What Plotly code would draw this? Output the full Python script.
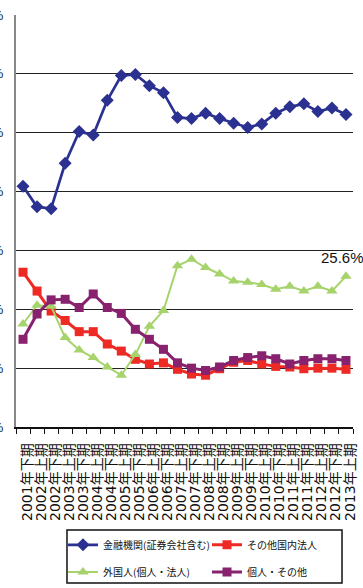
import plotly.graph_objects as go

categories = ["2001年下期", "2002年上期", "2002年下期", "2003年上期", "2003年下期", "2004年上期",
              "2004年下期", "2005年上期", "2005年下期", "2006年上期", "2006年下期", "2007年上期",
              "2007年下期", "2008年上期", "2008年下期", "2009年上期", "2009年下期", "2010年上期",
              "2010年下期", "2011年上期", "2011年下期", "2012年上期", "2012年下期", "2013年上期"]

financial = [40.9, 37.4, 37.1, 44.8, 50.2, 49.6, 55.5, 59.7, 59.9, 58.0, 56.8, 52.6,
             52.4, 53.3, 52.4, 51.6, 50.9, 51.5, 53.3, 54.4, 54.9, 53.6, 54.2, 53.1]
other_corp = [26.3, 23.1, 19.7, 18.1, 16.2, 16.2, 14.1, 12.9, 11.5, 10.7, 10.9, 9.8,
              9.0, 8.8, 9.9, 11.0, 11.3, 10.7, 10.3, 10.2, 9.9, 10.0, 10.0, 9.8]
foreign = [17.5, 20.7, 20.5, 15.2, 13.1, 11.8, 10.2, 8.8, 12.3, 17.1, 19.8, 27.4,
           28.5, 27.1, 26.0, 24.8, 24.6, 24.2, 23.4, 23.9, 23.1, 23.9, 23.1, 25.6]
individual = [14.9, 19.2, 21.6, 21.7, 20.3, 22.6, 20.3, 19.3, 16.6, 14.9, 13.2, 10.9,
              10.0, 9.6, 10.2, 11.3, 11.8, 12.1, 11.6, 10.7, 11.3, 11.6, 11.6, 11.3]

names = ["金融機関(証券会社含む)", "その他国内法人", "外国人(個人・法人)", "個人・その他"]
y_ticks = [0, 10, 20, 30, 40, 50, 60, 70]
y_labels = ["0%", "10%", "20%", "30%", "40%", "50%", "60%", "70%"]
last_label = "25.6%"

BLUE = "#2b3190"
RED = "#ee2a24"
GREEN = "#a6d36c"
PURPLE = "#88226e"

fig = go.Figure()
fig.add_trace(go.Scatter(x=categories, y=financial, name=names[0], mode="lines+markers",
                         line=dict(color=BLUE, width=2.7),
                         marker=dict(symbol="diamond", size=10, color=BLUE), legend="legend"))
fig.add_trace(go.Scatter(x=categories, y=other_corp, name=names[1], mode="lines+markers",
                         line=dict(color=RED, width=3),
                         marker=dict(symbol="square", size=9, color=RED), legend="legend"))
fig.add_trace(go.Scatter(x=categories, y=foreign, name=names[2], mode="lines+markers",
                         line=dict(color=GREEN, width=2),
                         marker=dict(symbol="triangle-up", size=10, color=GREEN), legend="legend2"))
fig.add_trace(go.Scatter(x=categories, y=individual, name=names[3], mode="lines+markers",
                         line=dict(color=PURPLE, width=3),
                         marker=dict(symbol="square", size=9, color=PURPLE), legend="legend2"))

fig.add_annotation(x=categories[-1], y=foreign[-1], text=last_label, showarrow=False,
                   yanchor="bottom", yshift=8, xshift=-3,
                   font=dict(family="Liberation Sans", size=15, color="#111"))

legend_font = dict(family="Noto Sans CJK JP", size=10, color="#111")
fig.update_layout(
    width=363, height=588,
    margin=dict(l=16, r=10, t=15, b=161, autoexpand=False),
    paper_bgcolor="white", plot_bgcolor="white",
    font=dict(family="DejaVu Sans, Noto Sans CJK JP", color="#111"),
    showlegend=True,
    legend=dict(orientation="h", x=0.1395, y=-0.286, xanchor="left", yanchor="middle",
                font=legend_font, entrywidth=99, bgcolor="rgba(0,0,0,0)", borderwidth=0),
    legend2=dict(orientation="h", x=0.1395, y=-0.352, xanchor="left", yanchor="middle",
                 font=legend_font, entrywidth=99, bgcolor="rgba(0,0,0,0)", borderwidth=0),
    shapes=[dict(type="rect", xref="paper", yref="paper", x0=0.1513, x1=0.9674,
                 y0=-0.3786, y1=-0.25, line=dict(color="#111", width=1.5))],
)
fig.update_xaxes(type="category", range=[-0.5, len(categories) - 0.5], automargin=False,
                 tickmode="array", tickvals=categories, ticktext=categories,
                 tickangle=-90, tickfont=dict(family="DejaVu Sans, Noto Sans CJK JP", size=14, color="#111"),
                 ticklabelstandoff=9, ticklabelshift=4,
                 showgrid=False, showline=True, linecolor="#111", linewidth=1.5,
                 ticks="outside", tickson="boundaries", ticklen=5, tickcolor="#111", tickwidth=1)
fig.update_yaxes(range=[0, 70], tickvals=y_ticks, ticktext=y_labels, automargin=False,
                 showgrid=True, gridcolor="#222", gridwidth=1.3, zeroline=False,
                 showline=True, linecolor="#888", linewidth=2,
                 ticks="", ticklabelstandoff=8,
                 tickfont=dict(family="Liberation Sans", size=13, color="#111"))

fig.write_html("out.html")
